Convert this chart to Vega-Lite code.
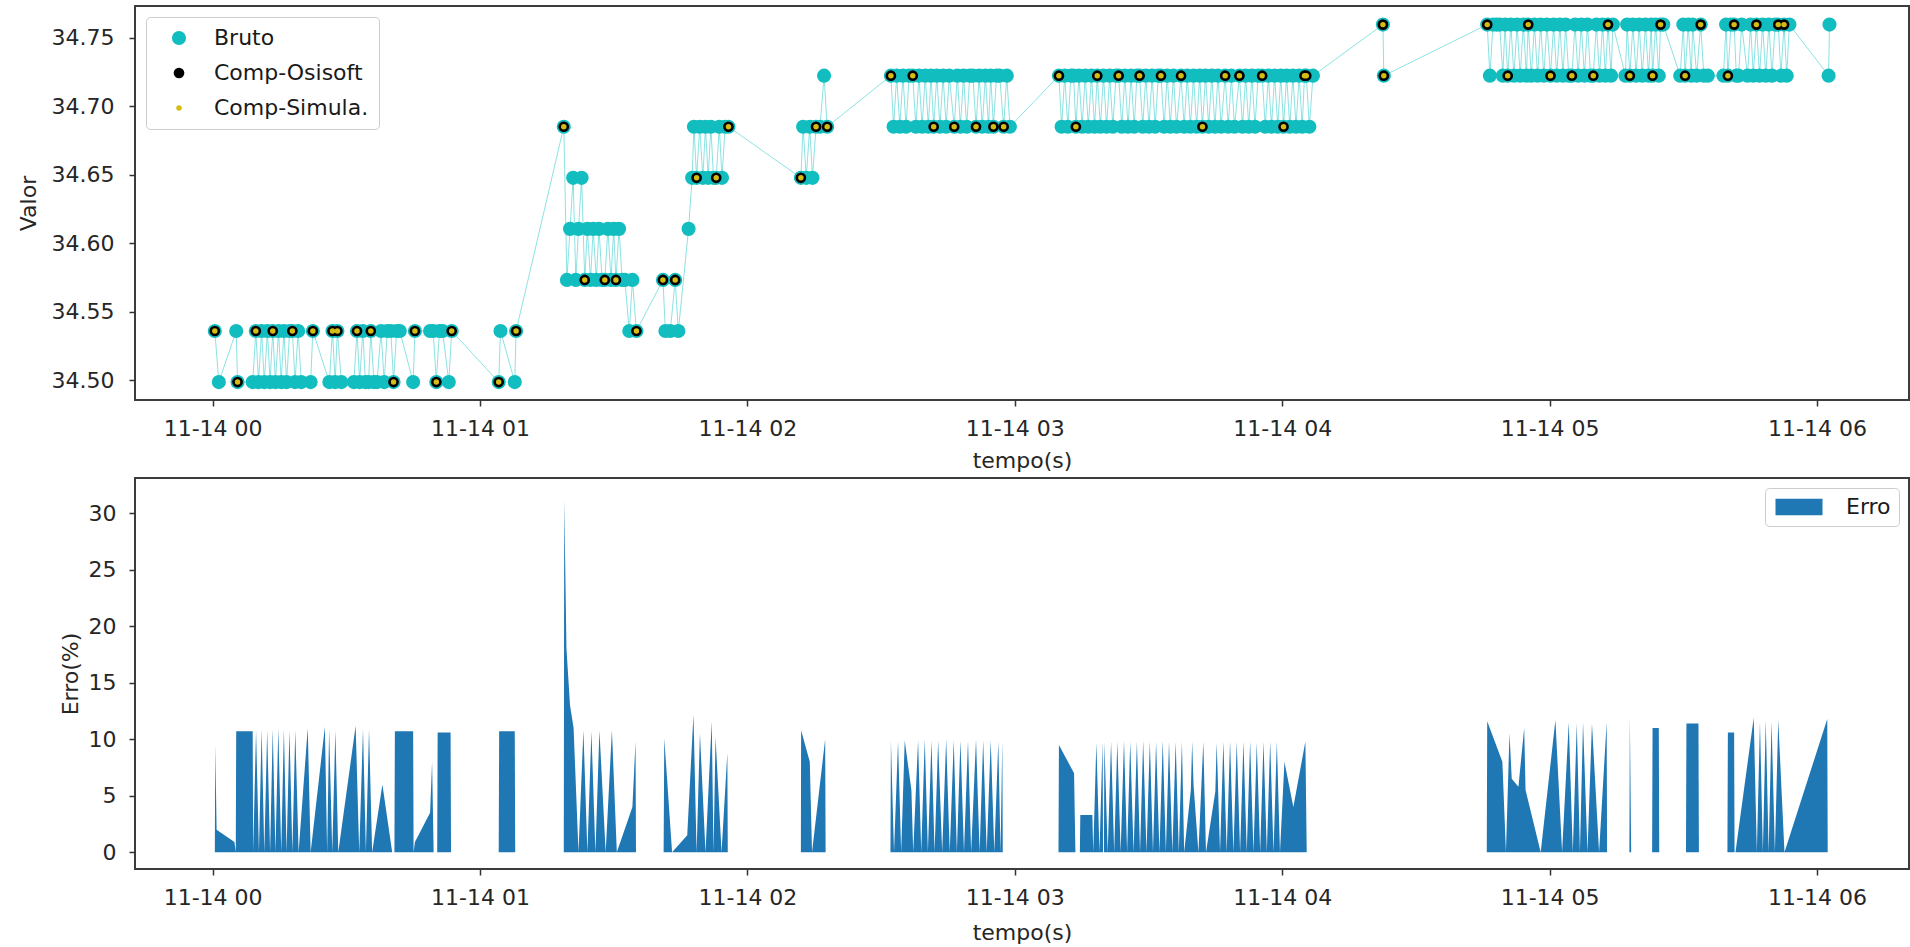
{
"$schema":"https://vega.github.io/schema/vega-lite/v6.json",
"background":"white",
"padding":{"left":16,"top":5,"right":0,"bottom":0},
"spacing":78,
"bounds":"flush",
"resolve":{"scale":{"color":"independent","size":"independent","x":"independent","y":"independent"},"legend":{"color":"independent","size":"independent"}},
"config":{
 "font":"DejaVu Sans",
 "view":{"stroke":"#3c3c3c","strokeWidth":2},
 "axis":{"domain":false,"grid":false,"tickColor":"#333333","tickWidth":1.5,"tickSize":6,"labelFont":"DejaVu Sans","labelFontSize":22,"labelColor":"#262626","titleFont":"DejaVu Sans","titleFontSize":22,"titleFontWeight":"normal","titleColor":"#262626","labelFlush":false}
},
"datasets":{
"pts":[
{"s":"Bruto","t":0.5,"v":34.5358},{"s":"Bruto","t":1.4,"v":34.4985},{"s":"Bruto","t":5.3,"v":34.5358},{"s":"Bruto","t":5.6,"v":34.4985},{"s":"Bruto","t":9.0,"v":34.4985},{"s":"Bruto","t":9.7,"v":34.5358},{"s":"Bruto","t":10.3,"v":34.4985},{"s":"Bruto","t":11.0,"v":34.5358},{"s":"Bruto","t":11.6,"v":34.4985},{"s":"Bruto","t":12.3,"v":34.5358},{"s":"Bruto","t":12.9,"v":34.4985},{"s":"Bruto","t":13.5,"v":34.5358},{"s":"Bruto","t":14.1,"v":34.4985},{"s":"Bruto","t":14.8,"v":34.5358},{"s":"Bruto","t":15.4,"v":34.4985},{"s":"Bruto","t":16.0,"v":34.5358},{"s":"Bruto","t":16.6,"v":34.4985},{"s":"Bruto","t":17.3,"v":34.5358},{"s":"Bruto","t":17.9,"v":34.5358},{"s":"Bruto","t":18.5,"v":34.4985},{"s":"Bruto","t":19.2,"v":34.5358},{"s":"Bruto","t":19.9,"v":34.4985},{"s":"Bruto","t":22.0,"v":34.4985},{"s":"Bruto","t":22.5,"v":34.5358},{"s":"Bruto","t":26.2,"v":34.4985},{"s":"Bruto","t":26.9,"v":34.5358},{"s":"Bruto","t":27.5,"v":34.4985},{"s":"Bruto","t":28.0,"v":34.5358},{"s":"Bruto","t":28.9,"v":34.4985},{"s":"Bruto","t":31.7,"v":34.4985},{"s":"Bruto","t":32.4,"v":34.5358},{"s":"Bruto","t":33.0,"v":34.4985},{"s":"Bruto","t":33.7,"v":34.5358},{"s":"Bruto","t":34.3,"v":34.4985},{"s":"Bruto","t":35.0,"v":34.4985},{"s":"Bruto","t":35.5,"v":34.5358},{"s":"Bruto","t":36.2,"v":34.4985},{"s":"Bruto","t":36.9,"v":34.4985},{"s":"Bruto","t":37.8,"v":34.5358},{"s":"Bruto","t":38.5,"v":34.4985},{"s":"Bruto","t":39.2,"v":34.5358},{"s":"Bruto","t":40.0,"v":34.5358},{"s":"Bruto","t":40.6,"v":34.4985},{"s":"Bruto","t":41.3,"v":34.5358},{"s":"Bruto","t":42.0,"v":34.5358},{"s":"Bruto","t":45.0,"v":34.4985},{"s":"Bruto","t":45.4,"v":34.5358},{"s":"Bruto","t":48.8,"v":34.5358},{"s":"Bruto","t":49.5,"v":34.5358},{"s":"Bruto","t":50.2,"v":34.4985},{"s":"Bruto","t":50.9,"v":34.5358},{"s":"Bruto","t":51.6,"v":34.5358},{"s":"Bruto","t":53.0,"v":34.4985},{"s":"Bruto","t":53.65,"v":34.5358},
{"s":"Bruto","t":64.2,"v":34.4985},{"s":"Bruto","t":64.6,"v":34.5358},{"s":"Bruto","t":67.8,"v":34.4985},{"s":"Bruto","t":68.1,"v":34.5358},
{"s":"Bruto","t":78.8,"v":34.685},{"s":"Bruto","t":79.5,"v":34.5731},{"s":"Bruto","t":80.2,"v":34.6104},{"s":"Bruto","t":80.9,"v":34.6477},{"s":"Bruto","t":81.5,"v":34.5731},{"s":"Bruto","t":82.1,"v":34.6104},{"s":"Bruto","t":82.8,"v":34.6477},{"s":"Bruto","t":83.5,"v":34.5731},{"s":"Bruto","t":84.1,"v":34.6104},{"s":"Bruto","t":84.8,"v":34.5731},{"s":"Bruto","t":85.4,"v":34.6104},{"s":"Bruto","t":86.1,"v":34.5731},{"s":"Bruto","t":86.7,"v":34.6104},{"s":"Bruto","t":87.4,"v":34.5731},{"s":"Bruto","t":88.0,"v":34.5731},{"s":"Bruto","t":88.7,"v":34.6104},{"s":"Bruto","t":89.4,"v":34.5731},{"s":"Bruto","t":90.0,"v":34.6104},{"s":"Bruto","t":90.5,"v":34.5731},{"s":"Bruto","t":91.2,"v":34.6104},{"s":"Bruto","t":91.9,"v":34.5731},{"s":"Bruto","t":92.5,"v":34.5731},{"s":"Bruto","t":93.5,"v":34.5358},{"s":"Bruto","t":94.2,"v":34.5731},{"s":"Bruto","t":95.1,"v":34.5358},
{"s":"Bruto","t":101.05,"v":34.5731},{"s":"Bruto","t":101.6,"v":34.5358},{"s":"Bruto","t":102.7,"v":34.5358},{"s":"Bruto","t":103.8,"v":34.5731},{"s":"Bruto","t":104.5,"v":34.5358},{"s":"Bruto","t":106.8,"v":34.6104},{"s":"Bruto","t":107.6,"v":34.6477},{"s":"Bruto","t":108.0,"v":34.685},{"s":"Bruto","t":108.6,"v":34.6477},{"s":"Bruto","t":109.3,"v":34.685},{"s":"Bruto","t":110.0,"v":34.6477},{"s":"Bruto","t":110.6,"v":34.685},{"s":"Bruto","t":111.2,"v":34.6477},{"s":"Bruto","t":111.8,"v":34.685},{"s":"Bruto","t":112.4,"v":34.6477},{"s":"Bruto","t":113.0,"v":34.6477},{"s":"Bruto","t":113.7,"v":34.685},{"s":"Bruto","t":114.3,"v":34.6477},{"s":"Bruto","t":115.0,"v":34.685},{"s":"Bruto","t":115.75,"v":34.685},
{"s":"Bruto","t":132.0,"v":34.6477},{"s":"Bruto","t":132.5,"v":34.685},{"s":"Bruto","t":133.2,"v":34.6477},{"s":"Bruto","t":134.0,"v":34.685},{"s":"Bruto","t":134.6,"v":34.6477},{"s":"Bruto","t":135.4,"v":34.685},{"s":"Bruto","t":136.3,"v":34.685},{"s":"Bruto","t":137.2,"v":34.7223},{"s":"Bruto","t":137.9,"v":34.685},
{"s":"Bruto","t":152.2,"v":34.7223},{"s":"Bruto","t":152.8,"v":34.685},{"s":"Bruto","t":153.5,"v":34.7223},{"s":"Bruto","t":154.2,"v":34.685},{"s":"Bruto","t":154.9,"v":34.7223},{"s":"Bruto","t":155.6,"v":34.685},{"s":"Bruto","t":156.3,"v":34.7223},{"s":"Bruto","t":157.1,"v":34.7223},{"s":"Bruto","t":157.8,"v":34.685},{"s":"Bruto","t":158.5,"v":34.7223},{"s":"Bruto","t":159.2,"v":34.685},{"s":"Bruto","t":159.9,"v":34.7223},{"s":"Bruto","t":160.6,"v":34.685},{"s":"Bruto","t":161.2,"v":34.7223},{"s":"Bruto","t":161.8,"v":34.685},{"s":"Bruto","t":162.5,"v":34.7223},{"s":"Bruto","t":163.2,"v":34.685},{"s":"Bruto","t":163.9,"v":34.7223},{"s":"Bruto","t":164.6,"v":34.685},{"s":"Bruto","t":165.3,"v":34.7223},{"s":"Bruto","t":166.4,"v":34.685},{"s":"Bruto","t":167.1,"v":34.7223},{"s":"Bruto","t":167.8,"v":34.685},{"s":"Bruto","t":168.5,"v":34.7223},{"s":"Bruto","t":169.2,"v":34.685},{"s":"Bruto","t":169.9,"v":34.7223},{"s":"Bruto","t":170.6,"v":34.7223},{"s":"Bruto","t":171.3,"v":34.685},{"s":"Bruto","t":172.0,"v":34.7223},{"s":"Bruto","t":172.7,"v":34.685},{"s":"Bruto","t":173.4,"v":34.7223},{"s":"Bruto","t":174.1,"v":34.685},{"s":"Bruto","t":174.6,"v":34.7223},{"s":"Bruto","t":175.2,"v":34.685},{"s":"Bruto","t":175.9,"v":34.7223},{"s":"Bruto","t":176.6,"v":34.7223},{"s":"Bruto","t":177.5,"v":34.685},{"s":"Bruto","t":178.2,"v":34.7223},{"s":"Bruto","t":178.9,"v":34.685},
{"s":"Bruto","t":189.9,"v":34.7223},{"s":"Bruto","t":190.5,"v":34.685},{"s":"Bruto","t":191.2,"v":34.7223},{"s":"Bruto","t":191.9,"v":34.685},{"s":"Bruto","t":192.6,"v":34.7223},{"s":"Bruto","t":193.2,"v":34.7223},{"s":"Bruto","t":193.7,"v":34.685},{"s":"Bruto","t":194.4,"v":34.7223},{"s":"Bruto","t":195.1,"v":34.685},{"s":"Bruto","t":195.8,"v":34.7223},{"s":"Bruto","t":196.5,"v":34.685},{"s":"Bruto","t":197.2,"v":34.7223},{"s":"Bruto","t":197.9,"v":34.685},{"s":"Bruto","t":198.5,"v":34.7223},{"s":"Bruto","t":199.2,"v":34.685},{"s":"Bruto","t":199.9,"v":34.7223},{"s":"Bruto","t":200.6,"v":34.685},{"s":"Bruto","t":201.3,"v":34.7223},{"s":"Bruto","t":202.0,"v":34.685},{"s":"Bruto","t":202.7,"v":34.7223},{"s":"Bruto","t":203.3,"v":34.7223},{"s":"Bruto","t":204.0,"v":34.685},{"s":"Bruto","t":204.7,"v":34.7223},{"s":"Bruto","t":205.4,"v":34.685},{"s":"Bruto","t":206.1,"v":34.7223},{"s":"Bruto","t":206.8,"v":34.685},{"s":"Bruto","t":207.4,"v":34.7223},{"s":"Bruto","t":208.0,"v":34.7223},{"s":"Bruto","t":208.7,"v":34.685},{"s":"Bruto","t":209.4,"v":34.7223},{"s":"Bruto","t":210.1,"v":34.685},{"s":"Bruto","t":210.8,"v":34.7223},{"s":"Bruto","t":211.5,"v":34.685},{"s":"Bruto","t":212.2,"v":34.7223},{"s":"Bruto","t":212.8,"v":34.7223},{"s":"Bruto","t":213.5,"v":34.685},{"s":"Bruto","t":214.2,"v":34.7223},{"s":"Bruto","t":214.9,"v":34.685},{"s":"Bruto","t":215.6,"v":34.7223},{"s":"Bruto","t":216.3,"v":34.685},{"s":"Bruto","t":217.3,"v":34.7223},{"s":"Bruto","t":218.0,"v":34.685},{"s":"Bruto","t":218.7,"v":34.7223},{"s":"Bruto","t":219.4,"v":34.685},{"s":"Bruto","t":220.1,"v":34.7223},{"s":"Bruto","t":220.8,"v":34.685},{"s":"Bruto","t":221.5,"v":34.7223},{"s":"Bruto","t":222.1,"v":34.685},{"s":"Bruto","t":222.8,"v":34.7223},{"s":"Bruto","t":223.5,"v":34.685},{"s":"Bruto","t":224.2,"v":34.7223},{"s":"Bruto","t":224.9,"v":34.685},{"s":"Bruto","t":225.6,"v":34.7223},{"s":"Bruto","t":226.3,"v":34.685},{"s":"Bruto","t":227.2,"v":34.7223},{"s":"Bruto","t":227.9,"v":34.685},{"s":"Bruto","t":228.6,"v":34.7223},{"s":"Bruto","t":229.3,"v":34.685},{"s":"Bruto","t":230.4,"v":34.7223},{"s":"Bruto","t":231.1,"v":34.685},{"s":"Bruto","t":231.8,"v":34.7223},{"s":"Bruto","t":232.5,"v":34.685},{"s":"Bruto","t":233.2,"v":34.7223},{"s":"Bruto","t":233.9,"v":34.685},{"s":"Bruto","t":234.6,"v":34.7223},{"s":"Bruto","t":235.5,"v":34.7223},{"s":"Bruto","t":236.2,"v":34.685},{"s":"Bruto","t":236.9,"v":34.7223},{"s":"Bruto","t":237.6,"v":34.685},{"s":"Bruto","t":238.3,"v":34.7223},{"s":"Bruto","t":239.0,"v":34.685},{"s":"Bruto","t":239.7,"v":34.7223},{"s":"Bruto","t":240.3,"v":34.685},{"s":"Bruto","t":241.0,"v":34.7223},{"s":"Bruto","t":241.7,"v":34.685},{"s":"Bruto","t":242.4,"v":34.7223},{"s":"Bruto","t":243.1,"v":34.685},{"s":"Bruto","t":243.8,"v":34.7223},{"s":"Bruto","t":244.5,"v":34.685},{"s":"Bruto","t":245.0,"v":34.7223},{"s":"Bruto","t":245.4,"v":34.7223},{"s":"Bruto","t":246.1,"v":34.685},{"s":"Bruto","t":246.9,"v":34.7223},
{"s":"Bruto","t":262.6,"v":34.7596},{"s":"Bruto","t":262.8,"v":34.7223},
{"s":"Bruto","t":286.0,"v":34.7596},{"s":"Bruto","t":286.6,"v":34.7223},{"s":"Bruto","t":287.3,"v":34.7596},{"s":"Bruto","t":288.1,"v":34.7596},{"s":"Bruto","t":288.8,"v":34.7596},{"s":"Bruto","t":289.5,"v":34.7223},{"s":"Bruto","t":290.0,"v":34.7596},{"s":"Bruto","t":290.6,"v":34.7223},{"s":"Bruto","t":291.3,"v":34.7596},{"s":"Bruto","t":292.0,"v":34.7223},{"s":"Bruto","t":292.7,"v":34.7596},{"s":"Bruto","t":293.4,"v":34.7223},{"s":"Bruto","t":294.1,"v":34.7596},{"s":"Bruto","t":294.8,"v":34.7223},{"s":"Bruto","t":295.2,"v":34.7596},{"s":"Bruto","t":295.9,"v":34.7223},{"s":"Bruto","t":296.6,"v":34.7596},{"s":"Bruto","t":297.3,"v":34.7223},{"s":"Bruto","t":298.0,"v":34.7596},{"s":"Bruto","t":298.7,"v":34.7223},{"s":"Bruto","t":299.4,"v":34.7596},{"s":"Bruto","t":300.2,"v":34.7223},{"s":"Bruto","t":300.9,"v":34.7596},{"s":"Bruto","t":301.6,"v":34.7223},{"s":"Bruto","t":302.3,"v":34.7596},{"s":"Bruto","t":303.0,"v":34.7223},{"s":"Bruto","t":303.6,"v":34.7596},{"s":"Bruto","t":304.3,"v":34.7223},{"s":"Bruto","t":305.0,"v":34.7223},{"s":"Bruto","t":305.7,"v":34.7596},{"s":"Bruto","t":306.4,"v":34.7223},{"s":"Bruto","t":307.1,"v":34.7596},{"s":"Bruto","t":307.8,"v":34.7223},{"s":"Bruto","t":308.5,"v":34.7596},{"s":"Bruto","t":309.2,"v":34.7223},{"s":"Bruto","t":309.8,"v":34.7223},{"s":"Bruto","t":310.5,"v":34.7596},{"s":"Bruto","t":311.2,"v":34.7223},{"s":"Bruto","t":311.9,"v":34.7596},{"s":"Bruto","t":312.5,"v":34.7223},{"s":"Bruto","t":313.1,"v":34.7596},{"s":"Bruto","t":313.8,"v":34.7223},{"s":"Bruto","t":314.2,"v":34.7596},{"s":"Bruto","t":317.0,"v":34.7223},{"s":"Bruto","t":317.4,"v":34.7596},{"s":"Bruto","t":318.0,"v":34.7223},{"s":"Bruto","t":318.7,"v":34.7596},{"s":"Bruto","t":319.4,"v":34.7223},{"s":"Bruto","t":320.1,"v":34.7596},{"s":"Bruto","t":320.8,"v":34.7223},{"s":"Bruto","t":321.5,"v":34.7596},{"s":"Bruto","t":322.2,"v":34.7223},{"s":"Bruto","t":322.8,"v":34.7596},{"s":"Bruto","t":323.1,"v":34.7223},{"s":"Bruto","t":323.8,"v":34.7596},{"s":"Bruto","t":324.5,"v":34.7223},{"s":"Bruto","t":324.9,"v":34.7596},{"s":"Bruto","t":325.5,"v":34.7596},{"s":"Bruto","t":329.3,"v":34.7223},{"s":"Bruto","t":330.0,"v":34.7596},{"s":"Bruto","t":330.4,"v":34.7223},{"s":"Bruto","t":331.1,"v":34.7596},{"s":"Bruto","t":331.8,"v":34.7223},{"s":"Bruto","t":332.1,"v":34.7596},{"s":"Bruto","t":333.0,"v":34.7223},{"s":"Bruto","t":333.9,"v":34.7596},{"s":"Bruto","t":334.6,"v":34.7223},{"s":"Bruto","t":335.5,"v":34.7223},{"s":"Bruto","t":339.0,"v":34.7223},{"s":"Bruto","t":339.6,"v":34.7596},{"s":"Bruto","t":340.0,"v":34.7223},{"s":"Bruto","t":340.7,"v":34.7596},{"s":"Bruto","t":341.4,"v":34.7596},{"s":"Bruto","t":341.9,"v":34.7223},{"s":"Bruto","t":342.4,"v":34.7223},{"s":"Bruto","t":343.1,"v":34.7596},{"s":"Bruto","t":344.4,"v":34.7223},{"s":"Bruto","t":345.1,"v":34.7596},{"s":"Bruto","t":345.7,"v":34.7223},{"s":"Bruto","t":346.4,"v":34.7596},{"s":"Bruto","t":347.1,"v":34.7223},{"s":"Bruto","t":347.8,"v":34.7596},{"s":"Bruto","t":348.5,"v":34.7223},{"s":"Bruto","t":349.2,"v":34.7596},{"s":"Bruto","t":349.9,"v":34.7223},{"s":"Bruto","t":350.6,"v":34.7596},{"s":"Bruto","t":351.3,"v":34.7596},{"s":"Bruto","t":351.9,"v":34.7223},{"s":"Bruto","t":352.6,"v":34.7596},{"s":"Bruto","t":353.2,"v":34.7223},{"s":"Bruto","t":353.8,"v":34.7596},{"s":"Bruto","t":362.6,"v":34.7223},{"s":"Bruto","t":362.8,"v":34.7596},
{"s":"Comp-Osisoft","t":0.5,"v":34.5358},{"s":"Comp-Osisoft","t":9.7,"v":34.5358},{"s":"Comp-Osisoft","t":13.5,"v":34.5358},{"s":"Comp-Osisoft","t":17.9,"v":34.5358},{"s":"Comp-Osisoft","t":22.5,"v":34.5358},{"s":"Comp-Osisoft","t":26.9,"v":34.5358},{"s":"Comp-Osisoft","t":28.0,"v":34.5358},{"s":"Comp-Osisoft","t":32.4,"v":34.5358},{"s":"Comp-Osisoft","t":35.5,"v":34.5358},{"s":"Comp-Osisoft","t":45.4,"v":34.5358},{"s":"Comp-Osisoft","t":53.65,"v":34.5358},{"s":"Comp-Osisoft","t":68.1,"v":34.5358},{"s":"Comp-Osisoft","t":95.1,"v":34.5358},
{"s":"Comp-Osisoft","t":5.6,"v":34.4985},{"s":"Comp-Osisoft","t":40.6,"v":34.4985},{"s":"Comp-Osisoft","t":50.2,"v":34.4985},{"s":"Comp-Osisoft","t":64.2,"v":34.4985},
{"s":"Comp-Osisoft","t":83.5,"v":34.5731},{"s":"Comp-Osisoft","t":88.0,"v":34.5731},{"s":"Comp-Osisoft","t":90.5,"v":34.5731},{"s":"Comp-Osisoft","t":101.05,"v":34.5731},{"s":"Comp-Osisoft","t":103.8,"v":34.5731},
{"s":"Comp-Osisoft","t":78.8,"v":34.685},{"s":"Comp-Osisoft","t":115.75,"v":34.685},{"s":"Comp-Osisoft","t":135.4,"v":34.685},{"s":"Comp-Osisoft","t":137.9,"v":34.685},{"s":"Comp-Osisoft","t":161.8,"v":34.685},{"s":"Comp-Osisoft","t":166.4,"v":34.685},{"s":"Comp-Osisoft","t":171.3,"v":34.685},{"s":"Comp-Osisoft","t":175.2,"v":34.685},{"s":"Comp-Osisoft","t":177.5,"v":34.685},{"s":"Comp-Osisoft","t":193.7,"v":34.685},{"s":"Comp-Osisoft","t":222.1,"v":34.685},{"s":"Comp-Osisoft","t":240.3,"v":34.685},
{"s":"Comp-Osisoft","t":108.6,"v":34.6477},{"s":"Comp-Osisoft","t":113.0,"v":34.6477},{"s":"Comp-Osisoft","t":132.0,"v":34.6477},
{"s":"Comp-Osisoft","t":152.2,"v":34.7223},{"s":"Comp-Osisoft","t":157.1,"v":34.7223},{"s":"Comp-Osisoft","t":189.9,"v":34.7223},{"s":"Comp-Osisoft","t":198.5,"v":34.7223},{"s":"Comp-Osisoft","t":203.3,"v":34.7223},{"s":"Comp-Osisoft","t":208.0,"v":34.7223},{"s":"Comp-Osisoft","t":212.8,"v":34.7223},{"s":"Comp-Osisoft","t":217.3,"v":34.7223},{"s":"Comp-Osisoft","t":227.2,"v":34.7223},{"s":"Comp-Osisoft","t":230.4,"v":34.7223},{"s":"Comp-Osisoft","t":235.5,"v":34.7223},{"s":"Comp-Osisoft","t":245.0,"v":34.7223},{"s":"Comp-Osisoft","t":245.4,"v":34.7223},{"s":"Comp-Osisoft","t":262.8,"v":34.7223},{"s":"Comp-Osisoft","t":290.6,"v":34.7223},{"s":"Comp-Osisoft","t":300.2,"v":34.7223},{"s":"Comp-Osisoft","t":305.0,"v":34.7223},{"s":"Comp-Osisoft","t":309.8,"v":34.7223},{"s":"Comp-Osisoft","t":318.0,"v":34.7223},{"s":"Comp-Osisoft","t":323.1,"v":34.7223},{"s":"Comp-Osisoft","t":330.4,"v":34.7223},{"s":"Comp-Osisoft","t":340.0,"v":34.7223},
{"s":"Comp-Osisoft","t":262.6,"v":34.7596},{"s":"Comp-Osisoft","t":286.0,"v":34.7596},{"s":"Comp-Osisoft","t":295.2,"v":34.7596},{"s":"Comp-Osisoft","t":313.1,"v":34.7596},{"s":"Comp-Osisoft","t":324.9,"v":34.7596},{"s":"Comp-Osisoft","t":333.9,"v":34.7596},{"s":"Comp-Osisoft","t":341.4,"v":34.7596},{"s":"Comp-Osisoft","t":346.4,"v":34.7596},{"s":"Comp-Osisoft","t":351.3,"v":34.7596},{"s":"Comp-Osisoft","t":352.6,"v":34.7596},
{"s":"Comp-Simula.","t":0.5,"v":34.5358},{"s":"Comp-Simula.","t":9.7,"v":34.5358},{"s":"Comp-Simula.","t":13.5,"v":34.5358},{"s":"Comp-Simula.","t":17.9,"v":34.5358},{"s":"Comp-Simula.","t":22.5,"v":34.5358},{"s":"Comp-Simula.","t":26.9,"v":34.5358},{"s":"Comp-Simula.","t":28.0,"v":34.5358},{"s":"Comp-Simula.","t":32.4,"v":34.5358},{"s":"Comp-Simula.","t":35.5,"v":34.5358},{"s":"Comp-Simula.","t":45.4,"v":34.5358},{"s":"Comp-Simula.","t":53.65,"v":34.5358},{"s":"Comp-Simula.","t":68.1,"v":34.5358},{"s":"Comp-Simula.","t":95.1,"v":34.5358},
{"s":"Comp-Simula.","t":5.6,"v":34.4985},{"s":"Comp-Simula.","t":40.6,"v":34.4985},{"s":"Comp-Simula.","t":50.2,"v":34.4985},{"s":"Comp-Simula.","t":64.2,"v":34.4985},
{"s":"Comp-Simula.","t":83.5,"v":34.5731},{"s":"Comp-Simula.","t":88.0,"v":34.5731},{"s":"Comp-Simula.","t":90.5,"v":34.5731},{"s":"Comp-Simula.","t":101.05,"v":34.5731},{"s":"Comp-Simula.","t":103.8,"v":34.5731},
{"s":"Comp-Simula.","t":78.8,"v":34.685},{"s":"Comp-Simula.","t":115.75,"v":34.685},{"s":"Comp-Simula.","t":135.4,"v":34.685},{"s":"Comp-Simula.","t":137.9,"v":34.685},{"s":"Comp-Simula.","t":161.8,"v":34.685},{"s":"Comp-Simula.","t":166.4,"v":34.685},{"s":"Comp-Simula.","t":171.3,"v":34.685},{"s":"Comp-Simula.","t":175.2,"v":34.685},{"s":"Comp-Simula.","t":177.5,"v":34.685},{"s":"Comp-Simula.","t":193.7,"v":34.685},{"s":"Comp-Simula.","t":222.1,"v":34.685},{"s":"Comp-Simula.","t":240.3,"v":34.685},
{"s":"Comp-Simula.","t":108.6,"v":34.6477},{"s":"Comp-Simula.","t":113.0,"v":34.6477},{"s":"Comp-Simula.","t":132.0,"v":34.6477},
{"s":"Comp-Simula.","t":152.2,"v":34.7223},{"s":"Comp-Simula.","t":157.1,"v":34.7223},{"s":"Comp-Simula.","t":189.9,"v":34.7223},{"s":"Comp-Simula.","t":198.5,"v":34.7223},{"s":"Comp-Simula.","t":203.3,"v":34.7223},{"s":"Comp-Simula.","t":208.0,"v":34.7223},{"s":"Comp-Simula.","t":212.8,"v":34.7223},{"s":"Comp-Simula.","t":217.3,"v":34.7223},{"s":"Comp-Simula.","t":227.2,"v":34.7223},{"s":"Comp-Simula.","t":230.4,"v":34.7223},{"s":"Comp-Simula.","t":235.5,"v":34.7223},{"s":"Comp-Simula.","t":245.0,"v":34.7223},{"s":"Comp-Simula.","t":245.4,"v":34.7223},{"s":"Comp-Simula.","t":262.8,"v":34.7223},{"s":"Comp-Simula.","t":290.6,"v":34.7223},{"s":"Comp-Simula.","t":300.2,"v":34.7223},{"s":"Comp-Simula.","t":305.0,"v":34.7223},{"s":"Comp-Simula.","t":309.8,"v":34.7223},{"s":"Comp-Simula.","t":318.0,"v":34.7223},{"s":"Comp-Simula.","t":323.1,"v":34.7223},{"s":"Comp-Simula.","t":330.4,"v":34.7223},{"s":"Comp-Simula.","t":340.0,"v":34.7223},
{"s":"Comp-Simula.","t":262.6,"v":34.7596},{"s":"Comp-Simula.","t":286.0,"v":34.7596},{"s":"Comp-Simula.","t":295.2,"v":34.7596},{"s":"Comp-Simula.","t":313.1,"v":34.7596},{"s":"Comp-Simula.","t":324.9,"v":34.7596},{"s":"Comp-Simula.","t":333.9,"v":34.7596},{"s":"Comp-Simula.","t":341.4,"v":34.7596},{"s":"Comp-Simula.","t":346.4,"v":34.7596},{"s":"Comp-Simula.","t":351.3,"v":34.7596},{"s":"Comp-Simula.","t":352.6,"v":34.7596}
],
"err":[
{"g":"A","t":0.5,"e":0},{"g":"A","t":0.6,"e":9.5},{"g":"A","t":0.9,"e":2.0},{"g":"A","t":4.9,"e":0.9},{"g":"A","t":5.2,"e":0},{"g":"A","t":5.3,"e":10.7},{"g":"A","t":9.0,"e":10.7},{"g":"A","t":9.1,"e":0},{"g":"A","t":9.75,"e":10.8},{"g":"A","t":10.4,"e":0},{"g":"A","t":11.0,"e":10.9},{"g":"A","t":11.6,"e":0},{"g":"A","t":12.25,"e":10.8},{"g":"A","t":12.9,"e":0},{"g":"A","t":13.5,"e":10.9},{"g":"A","t":14.1,"e":0},{"g":"A","t":14.75,"e":11.0},{"g":"A","t":15.4,"e":0},{"g":"A","t":16.0,"e":10.9},{"g":"A","t":16.6,"e":0},{"g":"A","t":17.25,"e":10.8},{"g":"A","t":17.9,"e":0},{"g":"A","t":18.55,"e":10.8},{"g":"A","t":19.3,"e":0},{"g":"A","t":21.35,"e":11.0},{"g":"A","t":22.0,"e":0},{"g":"A","t":25.2,"e":11.1},{"g":"A","t":25.7,"e":0},{"g":"A","t":26.15,"e":10.9},{"g":"A","t":26.85,"e":0},{"g":"A","t":27.55,"e":10.8},{"g":"A","t":28.2,"e":0},{"g":"A","t":32.1,"e":11.2},{"g":"A","t":32.9,"e":0},{"g":"A","t":33.75,"e":10.9},{"g":"A","t":34.4,"e":0},{"g":"A","t":35.1,"e":10.9},{"g":"A","t":35.8,"e":0},{"g":"A","t":38.1,"e":6.0},{"g":"A","t":40.3,"e":0},{"g":"A","t":40.8,"e":0},{"g":"A","t":40.9,"e":10.7},{"g":"A","t":45.0,"e":10.7},{"g":"A","t":45.1,"e":0},{"g":"A","t":45.4,"e":0.9},{"g":"A","t":48.8,"e":3.5},{"g":"A","t":49.25,"e":8.0},{"g":"A","t":49.6,"e":0},{"g":"A","t":50.4,"e":0},{"g":"A","t":50.5,"e":10.6},{"g":"A","t":53.4,"e":10.6},{"g":"A","t":53.5,"e":0},
{"g":"B","t":64.2,"e":0},{"g":"B","t":64.3,"e":10.7},{"g":"B","t":67.8,"e":10.7},{"g":"B","t":67.9,"e":0},
{"g":"C","t":78.8,"e":0},{"g":"C","t":78.9,"e":31.3},{"g":"C","t":79.4,"e":18.0},{"g":"C","t":80.2,"e":13.0},{"g":"C","t":81.0,"e":11.0},{"g":"C","t":82.1,"e":0},{"g":"C","t":83.2,"e":10.8},{"g":"C","t":84.1,"e":0},{"g":"C","t":85.0,"e":10.7},{"g":"C","t":85.9,"e":0},{"g":"C","t":86.8,"e":10.8},{"g":"C","t":88.2,"e":0},{"g":"C","t":89.6,"e":10.8},{"g":"C","t":90.7,"e":0},{"g":"C","t":94.2,"e":4.0},{"g":"C","t":94.9,"e":9.8},{"g":"C","t":95.0,"e":0},
{"g":"D","t":101.2,"e":0},{"g":"D","t":101.35,"e":10.1},{"g":"D","t":103.1,"e":0},{"g":"D","t":106.5,"e":1.5},{"g":"D","t":107.9,"e":12.2},{"g":"D","t":108.6,"e":0},{"g":"D","t":109.35,"e":10.5},{"g":"D","t":110.6,"e":0},{"g":"D","t":112.0,"e":11.6},{"g":"D","t":112.4,"e":0},{"g":"D","t":112.85,"e":10.2},{"g":"D","t":114.2,"e":0},{"g":"D","t":115.5,"e":8.8},{"g":"D","t":115.6,"e":0},
{"g":"E","t":132.0,"e":0},{"g":"E","t":132.05,"e":10.8},{"g":"E","t":134.0,"e":8.0},{"g":"E","t":134.5,"e":0},{"g":"E","t":137.45,"e":10.0},{"g":"E","t":137.55,"e":0},
{"g":"F","t":152.1,"e":0},{"g":"F","t":152.2,"e":9.9},{"g":"F","t":152.9,"e":0},{"g":"F","t":153.8,"e":9.8},{"g":"F","t":154.5,"e":0},{"g":"F","t":155.3,"e":9.9},{"g":"F","t":156.8,"e":5.5},{"g":"F","t":157.2,"e":0},{"g":"F","t":158.3,"e":9.9},{"g":"F","t":159.0,"e":0},{"g":"F","t":159.8,"e":10.0},{"g":"F","t":160.5,"e":0},{"g":"F","t":161.3,"e":9.9},{"g":"F","t":162.0,"e":0},{"g":"F","t":162.8,"e":9.9},{"g":"F","t":163.7,"e":0},{"g":"F","t":164.6,"e":10.0},{"g":"F","t":165.4,"e":0},{"g":"F","t":166.3,"e":9.9},{"g":"F","t":167.0,"e":0},{"g":"F","t":167.8,"e":9.9},{"g":"F","t":168.6,"e":0},{"g":"F","t":169.5,"e":9.9},{"g":"F","t":170.2,"e":0},{"g":"F","t":171.3,"e":10.0},{"g":"F","t":172.1,"e":0},{"g":"F","t":172.9,"e":9.9},{"g":"F","t":173.7,"e":0},{"g":"F","t":174.6,"e":9.9},{"g":"F","t":175.4,"e":0},{"g":"F","t":176.3,"e":9.8},{"g":"F","t":176.8,"e":0},{"g":"F","t":177.2,"e":9.9},{"g":"F","t":177.3,"e":0},
{"g":"G1","t":189.8,"e":0},{"g":"G1","t":189.9,"e":9.5},{"g":"G1","t":193.3,"e":7.0},{"g":"G1","t":193.6,"e":0},{"g":"G1","t":194.6,"e":0},{"g":"G1","t":194.7,"e":3.3},{"g":"G1","t":197.4,"e":3.3},{"g":"G1","t":197.6,"e":0},{"g":"G1","t":198.3,"e":9.7},{"g":"G1","t":199.0,"e":0},{"g":"G1","t":199.7,"e":9.8},{"g":"G1","t":199.8,"e":0},
{"g":"G2","t":200.0,"e":0},{"g":"G2","t":200.1,"e":9.8},{"g":"G2","t":200.85,"e":0},{"g":"G2","t":201.6,"e":9.8},{"g":"G2","t":202.3,"e":0},{"g":"G2","t":203.0,"e":9.8},{"g":"G2","t":203.75,"e":0},{"g":"G2","t":204.5,"e":9.9},{"g":"G2","t":205.2,"e":0},{"g":"G2","t":205.9,"e":9.8},{"g":"G2","t":206.65,"e":0},{"g":"G2","t":207.4,"e":9.8},{"g":"G2","t":208.1,"e":0},{"g":"G2","t":208.8,"e":9.9},{"g":"G2","t":209.55,"e":0},{"g":"G2","t":210.3,"e":9.8},{"g":"G2","t":211.0,"e":0},{"g":"G2","t":211.7,"e":9.8},{"g":"G2","t":212.45,"e":0},{"g":"G2","t":213.2,"e":9.9},{"g":"G2","t":213.9,"e":0},{"g":"G2","t":214.6,"e":9.8},{"g":"G2","t":215.35,"e":0},{"g":"G2","t":216.1,"e":9.8},{"g":"G2","t":216.8,"e":0},{"g":"G2","t":217.5,"e":9.8},{"g":"G2","t":218.0,"e":0},{"g":"G2","t":219.5,"e":5.5},{"g":"G2","t":219.8,"e":9.8},{"g":"G2","t":220.1,"e":6.0},{"g":"G2","t":221.2,"e":0},{"g":"G2","t":222.3,"e":9.8},{"g":"G2","t":222.9,"e":0},{"g":"G2","t":225.0,"e":5.4},{"g":"G2","t":225.3,"e":9.7},{"g":"G2","t":226.05,"e":0},{"g":"G2","t":226.8,"e":9.8},{"g":"G2","t":227.55,"e":0},{"g":"G2","t":228.3,"e":9.8},{"g":"G2","t":229.05,"e":0},{"g":"G2","t":229.8,"e":9.8},{"g":"G2","t":230.55,"e":0},{"g":"G2","t":231.3,"e":9.8},{"g":"G2","t":232.05,"e":0},{"g":"G2","t":232.8,"e":9.8},{"g":"G2","t":233.55,"e":0},{"g":"G2","t":234.3,"e":9.7},{"g":"G2","t":235.05,"e":0},{"g":"G2","t":235.8,"e":9.8},{"g":"G2","t":236.55,"e":0},{"g":"G2","t":237.3,"e":9.8},{"g":"G2","t":238.05,"e":0},{"g":"G2","t":238.8,"e":9.8},{"g":"G2","t":239.5,"e":0},{"g":"G2","t":240.5,"e":8.0},{"g":"G2","t":242.5,"e":4.0},{"g":"G2","t":245.2,"e":9.8},{"g":"G2","t":245.5,"e":0},
{"g":"H","t":285.9,"e":0},{"g":"H","t":286.0,"e":11.6},{"g":"H","t":289.4,"e":8.0},{"g":"H","t":290.2,"e":0},{"g":"H","t":291.0,"e":10.5},{"g":"H","t":291.5,"e":6.5},{"g":"H","t":293.0,"e":5.8},{"g":"H","t":294.3,"e":11.0},{"g":"H","t":294.6,"e":5.5},{"g":"H","t":298.0,"e":0},{"g":"H","t":301.3,"e":11.7},{"g":"H","t":302.8,"e":0},{"g":"H","t":304.3,"e":11.5},{"g":"H","t":305.2,"e":0},{"g":"H","t":306.1,"e":11.4},{"g":"H","t":306.8,"e":0},{"g":"H","t":307.5,"e":11.5},{"g":"H","t":308.5,"e":0},{"g":"H","t":309.5,"e":11.4},{"g":"H","t":311.1,"e":0},{"g":"H","t":312.8,"e":11.5},{"g":"H","t":312.9,"e":0},
{"g":"I","t":317.9,"e":0},{"g":"I","t":318.0,"e":12.0},{"g":"I","t":318.3,"e":0},{"g":"I","t":323.0,"e":0},{"g":"I","t":323.1,"e":11.0},{"g":"I","t":324.5,"e":11.0},{"g":"I","t":324.6,"e":0},
{"g":"J","t":330.6,"e":0},{"g":"J","t":330.7,"e":11.4},{"g":"J","t":333.4,"e":11.4},{"g":"J","t":333.5,"e":0},
{"g":"K","t":339.9,"e":0},{"g":"K","t":340.0,"e":10.6},{"g":"K","t":341.4,"e":10.6},{"g":"K","t":341.5,"e":0},{"g":"K","t":341.7,"e":0},{"g":"K","t":345.8,"e":11.9},{"g":"K","t":346.5,"e":0},{"g":"K","t":347.2,"e":11.5},{"g":"K","t":347.85,"e":0},{"g":"K","t":348.5,"e":11.7},{"g":"K","t":349.15,"e":0},{"g":"K","t":349.8,"e":11.6},{"g":"K","t":350.55,"e":0},{"g":"K","t":351.3,"e":11.7},{"g":"K","t":352.7,"e":0},{"g":"K","t":362.3,"e":11.8},{"g":"K","t":362.4,"e":0}
]
},
"vconcat":[
{
 "width":1774,"height":394,
 "layer":[
  {"data":{"name":"pts"},
   "transform":[{"filter":"datum.s === 'Bruto'"}],
   "mark":{"type":"line","color":"#00BFBF","strokeWidth":1,"opacity":0.45},
   "encoding":{
    "x":{"field":"t","type":"quantitative","scale":{"domain":[-17.41,380.64],"nice":false,"zero":false},"axis":{"values":[0,60,120,180,240,300,360],"labelExpr":"'11-14 0' + (datum.value/60)","title":"tempo(s)","titleY":50,"labelPadding":12}},
    "y":{"field":"v","type":"quantitative","scale":{"domain":[34.4854,34.7732],"nice":false,"zero":false},"axis":{"values":[34.5,34.55,34.6,34.65,34.7,34.75],"format":".2f","title":"Valor","titleX":-95,"labelPadding":15}}
   }},
  {"data":{"name":"pts"},
   "mark":{"type":"point","filled":true,"opacity":1,"strokeWidth":0},
   "encoding":{
    "x":{"field":"t","type":"quantitative"},
    "y":{"field":"v","type":"quantitative"},
    "color":{"field":"s","type":"nominal","scale":{"domain":["Bruto","Comp-Osisoft","Comp-Simula."],"range":["#12BDBF","#000000","#D4BC12"]},
      "legend":{"title":null,"orient":"top-left","offset":11,"padding":10,"fillColor":"rgba(255,255,255,0.85)","strokeColor":"#cccccc","cornerRadius":4,"labelFont":"DejaVu Sans","labelFontSize":22,"labelColor":"#1a1a1a","symbolOffset":12,"labelOffset":24,"rowPadding":13,"symbolStrokeWidth":0}},
    "size":{"field":"s","type":"nominal","scale":{"type":"point","padding":0,"domain":["Bruto","Comp-Osisoft","Comp-Simula."],"range":[200,30]},
      "legend":{"title":null,"orient":"top-left","offset":11,"padding":10,"fillColor":"rgba(255,255,255,0.85)","strokeColor":"#cccccc","cornerRadius":4,"labelFont":"DejaVu Sans","labelFontSize":22,"labelColor":"#1a1a1a","symbolOffset":12,"labelOffset":24,"rowPadding":13,"symbolStrokeWidth":0}}
   }}
 ]
},
{
 "width":1774,"height":391,
 "data":{"name":"err"},
 "mark":{"type":"area","opacity":1},
 "encoding":{
  "x":{"field":"t","type":"quantitative","scale":{"domain":[-17.41,380.64],"nice":false,"zero":false},"axis":{"values":[0,60,120,180,240,300,360],"labelExpr":"'11-14 0' + (datum.value/60)","title":"tempo(s)","titleY":53,"labelPadding":12}},
  "y":{"field":"e","type":"quantitative","stack":null,"scale":{"domain":[-1.48,33.12],"nice":false,"zero":false},"axis":{"values":[0,5,10,15,20,25,30],"title":"Erro(%)","titleX":-53,"labelPadding":13}},
  "detail":{"field":"g"},
  "color":{"datum":"Erro","scale":{"domain":["Erro"],"range":["#1f77b4"]},
    "legend":{"title":null,"orient":"top-right","offset":10,"padding":8,"fillColor":"rgba(255,255,255,0.85)","strokeColor":"#cccccc","cornerRadius":4,"labelFont":"DejaVu Sans","labelFontSize":22,"labelColor":"#1a1a1a","symbolType":"M-1,-0.98H4.53V0.98H-1Z","symbolSize":289,"symbolOffset":0,"labelOffset":51}}
 }
}
]
}
